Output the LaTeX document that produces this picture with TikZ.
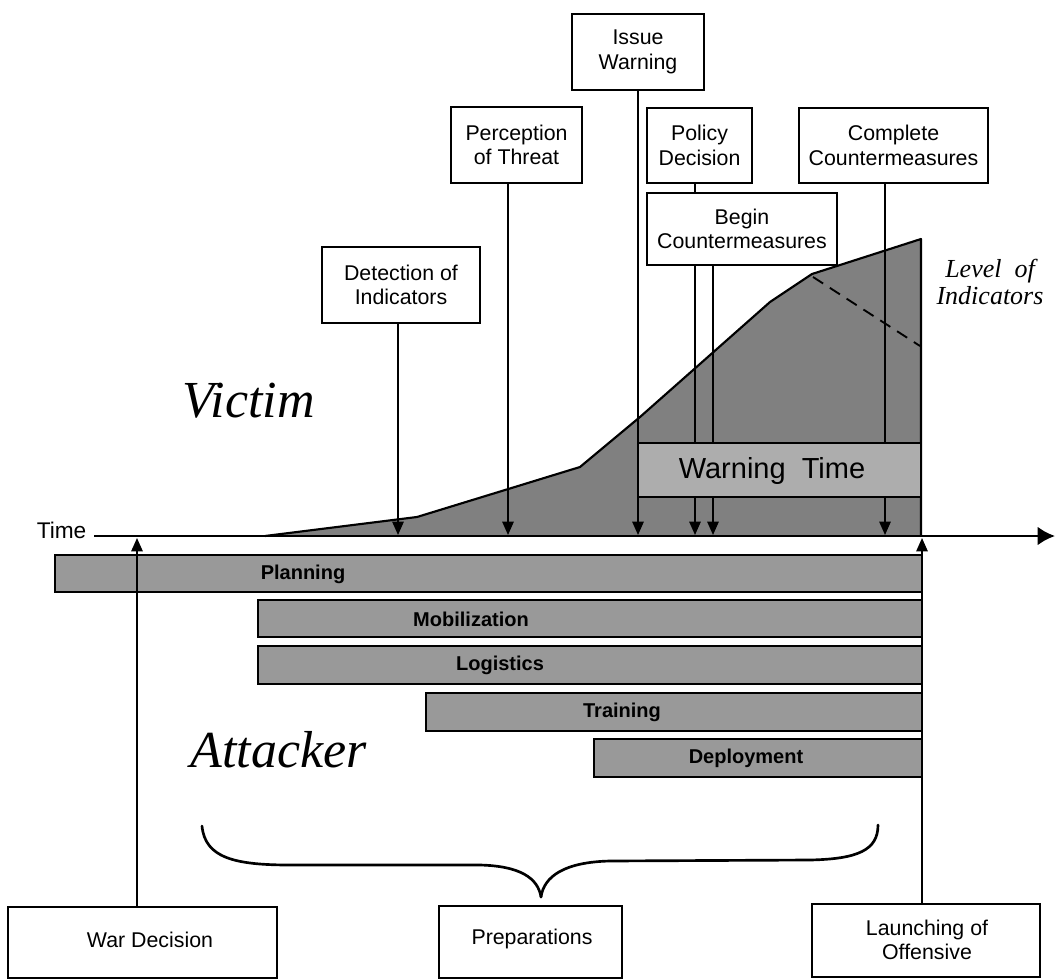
\documentclass[tikz,border=0pt]{standalone}
\usepackage{fontspec}
\setmainfont{Liberation Sans}
\newfontfamily\serifR{Liberation Serif}
\usetikzlibrary{arrows.meta,fit}
\begin{document}
\begin{tikzpicture}[x=0.75pt,y=-0.75pt,
  boxst/.style={draw, line width=1.5pt, fill=white, inner sep=0pt},
  boxtext/.style={align=center, font=\fontsize{16}{18.3}\selectfont},
  arr/.style={line width=1.3pt, -{Triangle[length=10pt,width=8.5pt]}},
  barst/.style={draw, line width=1.2pt, fill=black!40},
  barlabel/.style={font=\bfseries\fontsize{15}{18}\selectfont},
  bigit/.style={font=\serifR\itshape\fontsize{39}{44}\selectfont},
]
\useasboundingbox (0,0) rectangle (1055,980);

% level of indicators (shaded area)
\fill[black!50] (265,536) -- (417,517) -- (580,467) -- (640,417) -- (770,302) -- (812,274) -- (921,239) -- (921,536) -- cycle;
\draw[line width=1.6pt, line join=round] (265,536) -- (417,517) -- (580,467) -- (640,417) -- (770,302) -- (812,274) -- (921,239) -- (921,536);
\draw[line width=1.4pt, dash pattern=on 9pt off 6pt] (813,277) -- (920,346);

% top boxes
\node[boxst, fit={(572,14) (704,90)}] (iw) {};
\node[boxtext] at (iw.center) {Issue\\Warning};
\node[boxst, fit={(451,107) (582,183)}] (per) {};
\node[boxtext] at (per.center) {Perception\\of Threat};
\node[boxst, fit={(647,108) (752,183)}] (pol) {};
\node[boxtext] at (pol.center) {Policy\\Decision};
\node[boxst, fit={(799,108) (988,183)}] (com) {};
\node[boxtext] at (com.center) {Complete\\Countermeasures};
\node[boxst, fit={(322,247) (480,323)}] (det) {};
\node[boxtext] at (det.center) {Detection of\\Indicators};

% arrow targets on the time axis
\coordinate (aDet) at (398,535);
\coordinate (aPer) at (508,535);
\coordinate (aIw)  at (638,535);
\coordinate (aPol) at (695,535);
\coordinate (aBeg) at (713,535);
\coordinate (aCom) at (885,535);

\draw[arr] (det.south -| aDet) -- (aDet);
\draw[arr] (per.south -| aPer) -- (aPer);
\draw[arr] (iw.south -| aIw) -- (aIw);
\draw[arr] (pol.south -| aPol) -- (aPol);
\draw[arr] (com.south -| aCom) -- (aCom);

\node[boxst, fit={(647,193) (837,265)}] (beg) {};
\node[boxtext] at (beg.center) {Begin\\Countermeasures};
\draw[arr] (beg.south -| aBeg) -- (aBeg);

% warning time
\node[draw, line width=1.3pt, fill=black!32, inner sep=0pt, fit={(638,443) (921,497)}] (wt) {};
\node[font=\fontsize{21.75}{24}\selectfont] (wtl) at (772,471) {Warning\ \ Time};

% time axis
\coordinate (axL) at (94,536);
\coordinate (axR) at (1055,536);
\draw[line width=2pt, -{Latex[length=13pt,width=14pt]}] (axL) -- (axR);
\node[anchor=base east, font=\fontsize{17}{20}\selectfont] (time) at (91,538) {Time};

% attacker bars
\draw[barst] (55,555) rectangle (922,592);
\node[barlabel] (lPlan) at (303,574) {Planning};
\draw[barst] (258,600) rectangle (922,637);
\node[barlabel] (lMob) at (471,619) {Mobilization};
\draw[barst] (258,646) rectangle (922,684);
\node[barlabel] (lLog) at (500,665) {Logistics};
\draw[barst] (426,693) rectangle (922,731);
\node[barlabel] (lTra) at (622,712) {Training};
\draw[barst] (594,739) rectangle (922,777);
\node[barlabel] (lDep) at (746,758) {Deployment};

% bottom boxes
\node[boxst, fit={(8,907) (277,978)}] (wd) {};
\node[boxtext] at (150,940) {War Decision};
\node[boxst, fit={(439,906) (622,978)}] (prep) {};
\node[boxtext] at (532,939) {Preparations};
\node[boxst, fit={(812,904) (1040,977)}] (lo) {};
\node[boxtext] at (927,940) {Launching of\\Offensive};

\coordinate (aWd) at (137,538);
\coordinate (aLo) at (922,538);
\draw[arr] (wd.north -| aWd) -- (aWd);
\draw[arr] (lo.north -| aLo) -- (aLo);

% brace
\draw[line width=2pt, line cap=round] (202,826) .. controls (205,858) and (235,865) .. (290,865) -- (480,865) .. controls (520,866) and (538,878) .. (541,897);
\draw[line width=2pt, line cap=round] (541,897) .. controls (544,876) and (565,862) .. (610,861) -- (810,860) .. controls (858,859) and (878,850) .. (878,825);

% big labels
\node[bigit, anchor=base west] (victim) at (178,417) {Victim};
\node[bigit, anchor=base west] (attacker) at (186,767) {Attacker};
\node[align=center, font=\serifR\itshape\fontsize{19.5}{20.6}\selectfont] (loi) at (990,282) {Level\ \ of\\Indicators};
\end{tikzpicture}
\end{document}
